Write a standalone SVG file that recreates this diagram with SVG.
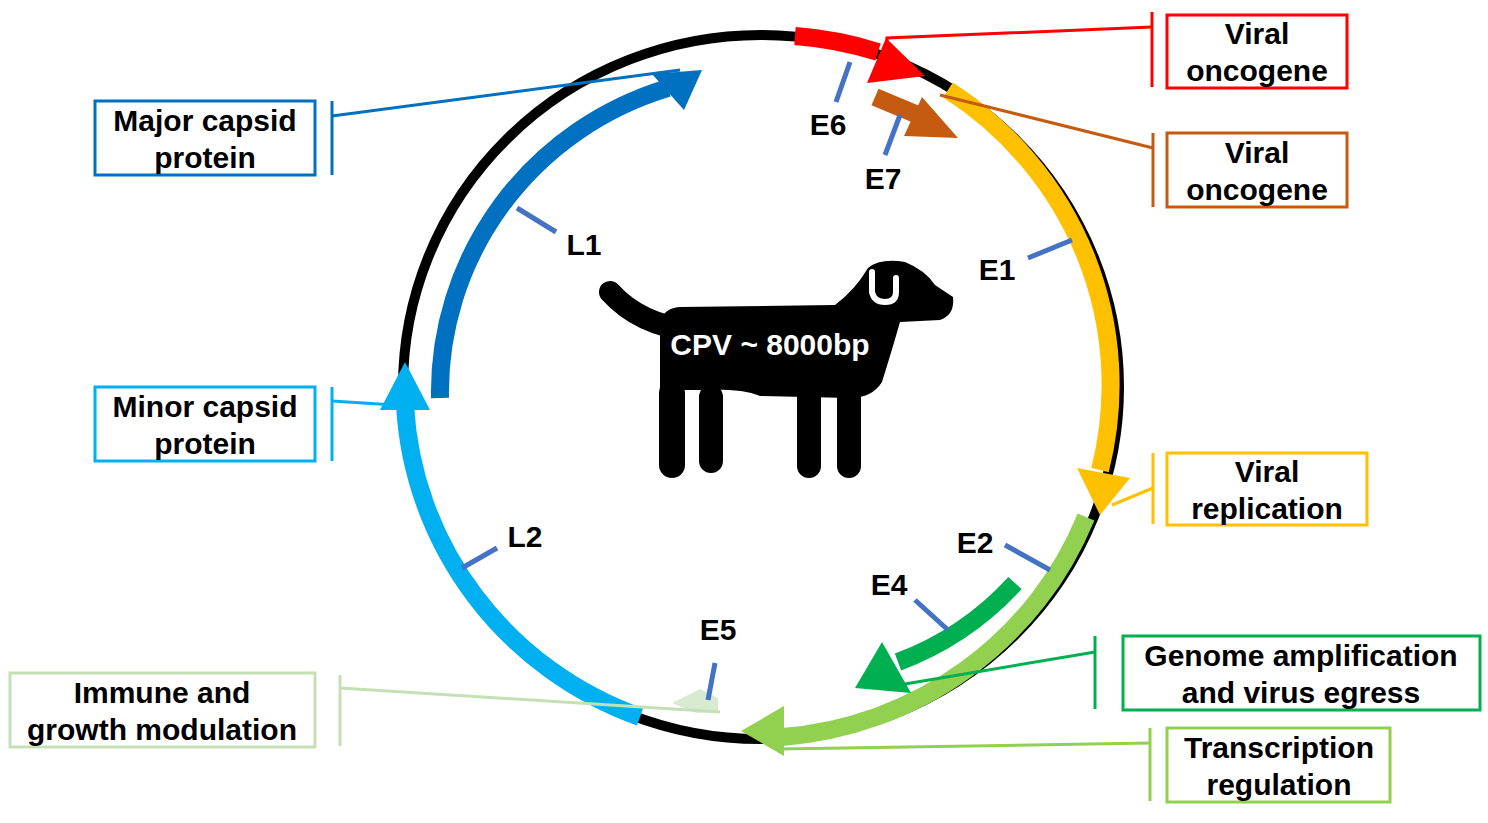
<svg xmlns="http://www.w3.org/2000/svg" width="1488" height="823" viewBox="0 0 1488 823">
<style>
.lbl{font-family:"Liberation Sans",Arial,sans-serif;font-weight:bold;font-size:30px;fill:#000;text-anchor:middle}
.box{fill:#fff;stroke-width:3}
.tick{stroke:#4472C4;stroke-width:5}
.band{fill:none;stroke-width:18}
.con{fill:none;stroke-width:3}
</style>
<rect width="1488" height="823" fill="#fff"/>
<g id="genome">
<ellipse cx="761" cy="387" rx="358" ry="352" fill="none" stroke="#000" stroke-width="10"/>
<path class="band" stroke="#FF0000" d="M795 36 A358 352 0 0 1 878 52"/>
<polygon fill="#FF0000" points="886,38 925,76 867,83"/>
<path class="band" stroke="#FFC000" d="M948 90 A358 352 0 0 1 1100 470"/>
<polygon fill="#FFC000" points="1077,468 1130,478 1100,515"/>
<path class="band" stroke="#92D050" stroke-width="20" d="M1086 517 A358 352 0 0 1 782 737"/>
<polygon fill="#92D050" points="784,706 741,731 784,756"/>
<path class="band" stroke="#00B0F0" d="M640 717 A358 352 0 0 1 405 405"/>
<polygon fill="#00B0F0" points="405,362 380,410 430,410"/>
<path class="band" stroke="#0070C0" stroke-width="16" d="M440 398 A322 318 0 0 1 668 88"/>
<polygon fill="#0070C0" points="702,70 652,74 684,110"/>
<path class="band" stroke="#C55A11" stroke-width="16" d="M875 97 L918 115"/>
<polygon fill="#C55A11" points="922,97 958,138 904,136"/>
<path class="band" stroke="#00B050" stroke-width="20" d="M1015 583 A300 300 0 0 1 898 662"/>
<polygon fill="#00B050" points="882,642 855,688 911,693"/>
<polygon fill="#D9EAD3" points="672,703 700,689 718,698 718,711 696,713"/>
</g>
<g id="ticks">
<line class="tick" x1="850" y1="62" x2="836" y2="102"/>
<line class="tick" x1="900" y1="115" x2="885" y2="155"/>
<line class="tick" x1="1072" y1="240" x2="1028" y2="258"/>
<line class="tick" x1="1005" y1="545" x2="1050" y2="570"/>
<line class="tick" x1="915" y1="600" x2="948" y2="630"/>
<line class="tick" x1="715" y1="663" x2="708" y2="700"/>
<line class="tick" x1="517" y1="208" x2="556" y2="232"/>
<line class="tick" x1="497" y1="548" x2="462" y2="568"/>
</g>
<g id="gene-labels">
<text class="lbl" x="828" y="135">E6</text>
<text class="lbl" x="883" y="189">E7</text>
<text class="lbl" x="997" y="280">E1</text>
<text class="lbl" x="975" y="553">E2</text>
<text class="lbl" x="889" y="595">E4</text>
<text class="lbl" x="718" y="640">E5</text>
<text class="lbl" x="584" y="255">L1</text>
<text class="lbl" x="525" y="547">L2</text>
</g>
<g id="dog">
<path d="M610 292 Q640 325 690 330" fill="none" stroke="#000" stroke-width="22" stroke-linecap="round"/>
<path fill="#000" d="M680 307 L835 305 Q855 290 868 268 Q880 258 905 262 Q925 270 935 285 L953 297 Q955 315 940 320 L900 322 Q892 350 882 382 Q872 398 850 398 L760 396 Q740 388 700 390 L660 390 L660 325 Q662 308 680 307 Z"/>
<path d="M872 272 L872 292 Q874 302 885 302 Q896 302 896 292 L896 278" fill="none" stroke="#fff" stroke-width="6" stroke-linecap="round"/>
<rect x="659" y="380" width="26" height="98" rx="13" fill="#000"/>
<rect x="699" y="385" width="24" height="88" rx="12" fill="#000"/>
<rect x="797" y="385" width="24" height="93" rx="12" fill="#000"/>
<rect x="837" y="385" width="24" height="93" rx="12" fill="#000"/>
<text x="770" y="355" font-family="Liberation Sans,Arial,sans-serif" font-weight="bold" font-size="30" fill="#fff" text-anchor="middle">CPV ~ 8000bp</text>
</g>
<g id="connectors">
<polyline class="con" stroke="#FF0000" points="1152,27 887,38 887,50"/>
<line class="con" stroke="#FF0000" x1="1152" y1="12" x2="1152" y2="87"/>
<line class="con" stroke="#C55A11" x1="1153" y1="148" x2="940" y2="95"/>
<line class="con" stroke="#C55A11" x1="1153" y1="133" x2="1153" y2="207"/>
<line class="con" stroke="#FFC000" x1="1153" y1="488" x2="1112" y2="505"/>
<line class="con" stroke="#FFC000" x1="1153" y1="453" x2="1153" y2="524"/>
<line class="con" stroke="#00B050" x1="1095" y1="652" x2="905" y2="684"/>
<line class="con" stroke="#00B050" x1="1095" y1="636" x2="1095" y2="709"/>
<line class="con" stroke="#92D050" x1="1150" y1="743" x2="780" y2="749"/>
<line class="con" stroke="#92D050" x1="1150" y1="728" x2="1150" y2="801"/>
<line class="con" stroke="#C5E0B4" x1="340" y1="688" x2="720" y2="712"/>
<line class="con" stroke="#C5E0B4" x1="340" y1="675" x2="340" y2="746"/>
<line class="con" stroke="#00B0F0" x1="332" y1="401" x2="410" y2="406"/>
<line class="con" stroke="#00B0F0" x1="332" y1="387" x2="332" y2="461"/>
<line class="con" stroke="#0070C0" x1="332" y1="116" x2="680" y2="70"/>
<line class="con" stroke="#0070C0" x1="332" y1="101" x2="332" y2="175"/>
</g>
<g id="box-e6"><rect class="box" stroke="#FF0000" x="1167" y="15" width="180" height="73"/><text class="lbl" x="1257" y="44">Viral</text><text class="lbl" x="1257" y="81">oncogene</text></g>
<g id="box-e7"><rect class="box" stroke="#C55A11" x="1167" y="133" width="180" height="74"/><text class="lbl" x="1257" y="163">Viral</text><text class="lbl" x="1257" y="200">oncogene</text></g>
<g id="box-e1"><rect class="box" stroke="#FFC000" x="1167" y="453" width="200" height="72"/><text class="lbl" x="1267" y="482">Viral</text><text class="lbl" x="1267" y="519">replication</text></g>
<g id="box-e4"><rect class="box" stroke="#00B050" x="1123" y="636" width="357" height="74"/><text class="lbl" x="1301" y="666">Genome amplification</text><text class="lbl" x="1301" y="703">and virus egress</text></g>
<g id="box-e2"><rect class="box" stroke="#92D050" x="1167" y="728" width="223" height="74"/><text class="lbl" x="1279" y="758">Transcription</text><text class="lbl" x="1279" y="795">regulation</text></g>
<g id="box-e5"><rect class="box" stroke="#C5E0B4" x="10" y="673" width="305" height="74"/><text class="lbl" x="162" y="703">Immune and</text><text class="lbl" x="162" y="740">growth modulation</text></g>
<g id="box-l2"><rect class="box" stroke="#00B0F0" x="95" y="387" width="220" height="74"/><text class="lbl" x="205" y="417">Minor capsid</text><text class="lbl" x="205" y="454">protein</text></g>
<g id="box-l1"><rect class="box" stroke="#0070C0" x="95" y="101" width="220" height="74"/><text class="lbl" x="205" y="131">Major capsid</text><text class="lbl" x="205" y="168">protein</text></g>
</svg>
